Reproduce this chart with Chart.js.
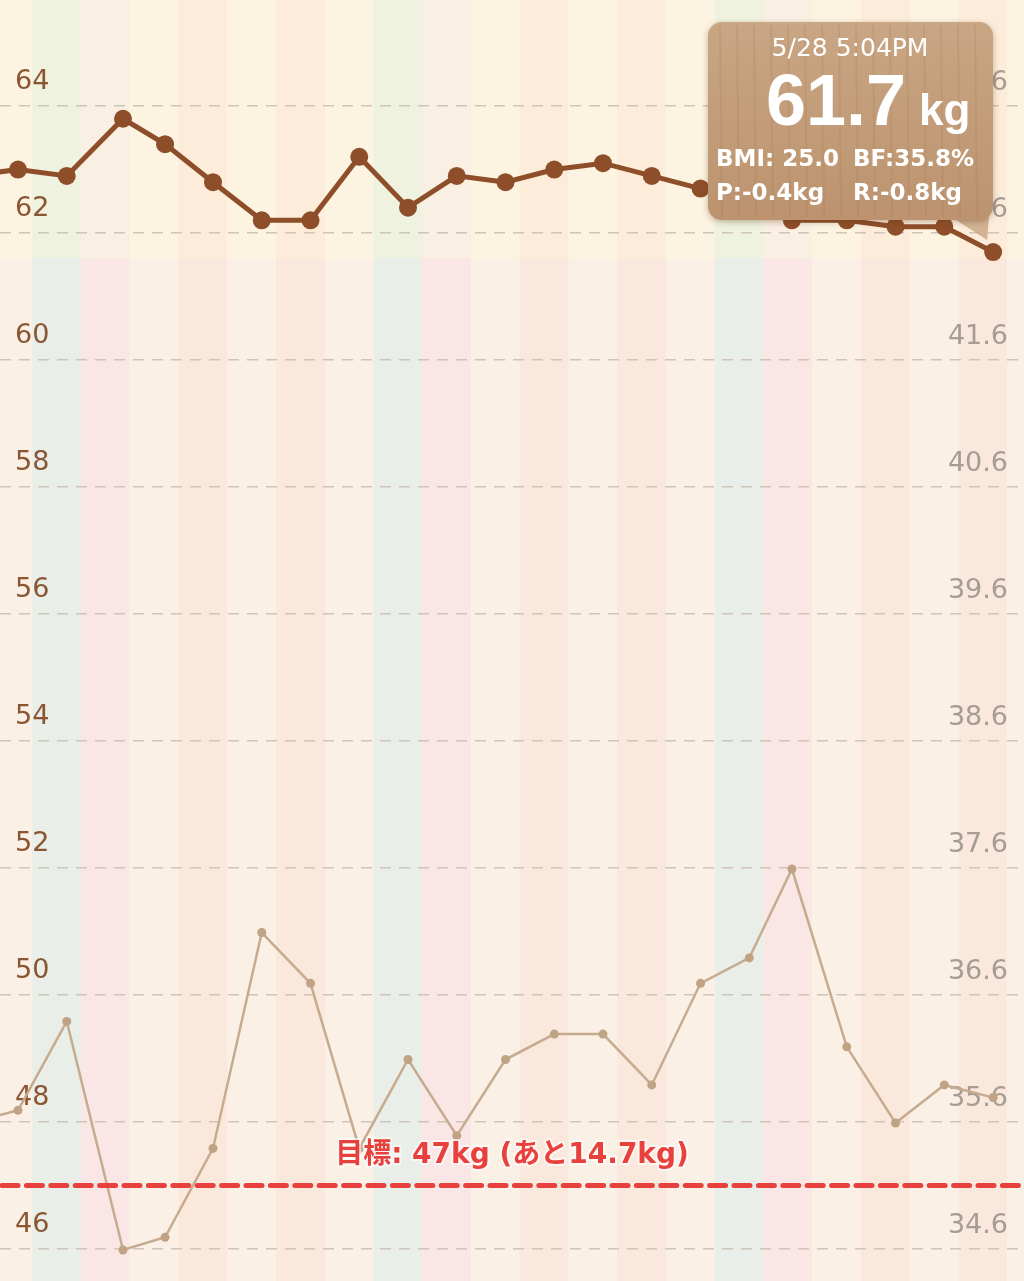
<!DOCTYPE html>
<html>
<head>
<meta charset="utf-8">
<title>体重グラフ</title>
<script src="https://cdn.jsdelivr.net/npm/chart.js@4.4.1/dist/chart.umd.min.js"></script>
<style>
  html, body { margin: 0; padding: 0; background: #faf0e6; }
  #wrap { width: 1024px; height: 1281px; position: relative; }
</style>
</head>
<body>
<div id="wrap"><canvas id="weightChart"></canvas></div>
<script>
// one reading per day (5/7 is just off the left edge)
const dates = ["5/7", "5/8", "5/9", "5/10", "5/11", "5/12", "5/13", "5/14", "5/15", "5/16", "5/17",
  "5/18", "5/19", "5/20", "5/21", "5/22", "5/23", "5/24", "5/25", "5/26", "5/27", "5/28"];
const readHours = [17, 17, 17, 20.7, 17.4, 17, 17, 17, 17, 17, 17,
  17, 17, 17, 17, 17, 17, 14, 17, 17, 17, 17.07];
const weightKg = [62.9, 63.0, 62.9, 63.8, 63.4, 62.8, 62.2, 62.2, 63.2, 62.4, 62.9,
  62.8, 63.0, 63.1, 62.9, 62.7, 62.5, 62.2, 62.2, 62.1, 62.1, 61.7];
const bodyFat = [35.6, 35.7, 36.4, 34.6, 34.7, 35.4, 37.1, 36.7, 35.4, 36.1, 35.5,
  36.1, 36.3, 36.3, 35.9, 36.7, 36.9, 37.6, 36.2, 35.6, 35.9, 35.8];
const weightTicks = [46, 48, 50, 52, 54, 56, 58, 60, 62, 64];
const fatTicks = [34.6, 35.6, 36.6, 37.6, 38.6, 39.6, 40.6, 41.6, 42.6, 43.6];

const goalKg = 47;
const bmi25Kg = 61.6;          // background tint changes here
const year = 2015;

const tipTitle = "5/28 5:04PM";
const tipBmi = "BMI: 25.0";
const tipP = "P:-0.4kg";
const tipR = "R:-0.8kg";

// day stripe colours: above / below the BMI 25 line
const topColors = { cream: "#fcf3e1", peach: "#fcecd9", sat: "#eef2df", sun: "#f9efe2" };
const lowColors = { cream: "#faf0e6", peach: "#fae8dc", sat: "#e9eee9", sun: "#f9e6e5" };

const dayKind = (dow) => {
  if (dow === 6) return "sat";
  if (dow === 0) return "sun";
  return (dow === 2 || dow === 4) ? "peach" : "cream";
};

const timeOf = (i) => i + readHours[i] / 24;

// scales take no room: labels sit inside the plot
const noRoom = (s) => {
  s.width = 0;
  s.paddingTop = 0;
  s.paddingBottom = 0;
  s.paddingLeft = 0;
  s.paddingRight = 0;
};

const stripes = {
  id: "stripes",
  beforeDraw(chart) {
    const { ctx, chartArea: a, scales: { x, y } } = chart;
    const split = y.getPixelForValue(bmi25Kg);
    ctx.save();
    for (let d = Math.floor(x.min); d <= Math.ceil(x.max); d++) {
      const dow = new Date(year, 4, 7 + d).getDay();
      const kind = dayKind(dow);
      const x1 = x.getPixelForValue(d), x2 = x.getPixelForValue(d + 1);
      ctx.fillStyle = topColors[kind];
      ctx.fillRect(x1, a.top, x2 - x1, split - a.top);
      ctx.fillStyle = lowColors[kind];
      ctx.fillRect(x1, split, x2 - x1, a.bottom - split);
    }
    ctx.restore();
  }
};

const goalLine = {
  id: "goalLine",
  afterDatasetsDraw(chart) {
    const { ctx, chartArea: a, scales: { y } } = chart;
    const gy = y.getPixelForValue(goalKg);
    const left = weightKg[weightKg.length - 1] - goalKg;
    ctx.save();
    ctx.strokeStyle = "#e8403c";
    ctx.lineWidth = 5;
    ctx.lineCap = "round";
    ctx.setLineDash([16, 8.4]);
    ctx.beginPath();
    ctx.moveTo(a.left + 2, gy);
    ctx.lineTo(a.right, gy);
    ctx.stroke();
    ctx.setLineDash([]);
    const label = `目標: ${goalKg}kg (あと${left.toFixed(1)}kg)`;
    ctx.font = "bold 28px 'DejaVu Sans', 'Noto Sans CJK JP', sans-serif";
    ctx.textAlign = "center";
    ctx.textBaseline = "middle";
    ctx.lineJoin = "round";
    ctx.lineWidth = 4;
    ctx.strokeStyle = "rgba(255,255,255,0.6)";
    ctx.strokeText(label, 512, gy - 30);
    ctx.fillStyle = "#e8403c";
    ctx.fillText(label, 512, gy - 30);
    ctx.restore();
  }
};

const infoBox = {
  id: "infoBox",
  afterDraw(chart) {
    const { ctx, scales: { x, y } } = chart;
    const last = weightKg.length - 1;
    const px = x.getPixelForValue(timeOf(last));
    const py = y.getPixelForValue(weightKg[last]);
    const bx = 708, by = 22, bw = 285, bh = 198, r = 14;
    ctx.save();
    // tail toward the latest point
    ctx.fillStyle = "rgba(196,160,124,0.75)";
    ctx.beginPath();
    ctx.moveTo(bx + bw - 40, by + bh - 2);
    ctx.lineTo(bx + bw - 2, by + bh - 30);
    ctx.lineTo(px - 6, py - 12);
    ctx.closePath();
    ctx.fill();
    // box
    ctx.shadowColor = "rgba(90,50,20,0.35)";
    ctx.shadowBlur = 6;
    ctx.shadowOffsetY = 2;
    const g = ctx.createLinearGradient(bx, by, bx, by + bh);
    g.addColorStop(0, "#c9a684");
    g.addColorStop(1, "#bc936e");
    ctx.fillStyle = g;
    ctx.beginPath();
    ctx.roundRect(bx, by, bw, bh, r);
    ctx.fill();
    ctx.shadowColor = "transparent";
    // faint wood grain
    ctx.strokeStyle = "rgba(160,115,75,0.18)";
    ctx.lineWidth = 2;
    for (let gx = bx + 12; gx < bx + bw - 6; gx += 17) {
      ctx.beginPath();
      ctx.moveTo(gx, by + 3);
      ctx.lineTo(gx + 2, by + bh - 3);
      ctx.stroke();
    }
    ctx.fillStyle = "#ffffff";
    ctx.textBaseline = "alphabetic";
    ctx.textAlign = "center";
    ctx.font = "25px 'DejaVu Sans', sans-serif";
    ctx.fillText(tipTitle, 850, 56);
    ctx.textAlign = "left";
    ctx.font = "bold 72px 'Liberation Sans', sans-serif";
    const big = weightKg[last].toFixed(1);
    ctx.fillText(big, 766, 125);
    ctx.font = "bold 44px 'Liberation Sans', sans-serif";
    ctx.fillText("kg", 919, 125);
    ctx.font = "bold 23px 'DejaVu Sans', sans-serif";
    ctx.fillText(tipBmi, 716, 166);
    ctx.fillText(`BF:${bodyFat[last].toFixed(1)}%`, 853, 166);
    ctx.fillText(tipP, 716, 200);
    ctx.fillText(tipR, 853, 200);
    ctx.restore();
  }
};

new Chart("weightChart", {
  type: "line",
  data: {
    datasets: [
      {
        label: "体重",
        data: weightKg.map((v, i) => ({ x: timeOf(i), y: v })),
        yAxisID: "y",
        borderColor: "#8d4e29",
        backgroundColor: "#8d4e29",
        borderWidth: 5,
        pointRadius: 9,
        pointBorderWidth: 0,
        tension: 0,
      },
      {
        label: "体脂肪率",
        data: bodyFat.map((v, i) => ({ x: timeOf(i), y: v })),
        yAxisID: "y2",
        borderColor: "#c6ab8e",
        backgroundColor: "#bfa384",
        borderWidth: 2.5,
        pointRadius: 4.5,
        pointBorderWidth: 0,
        tension: 0,
      },
    ],
  },
  options: {
    responsive: true,
    maintainAspectRatio: false,
    animation: false,
    events: [],
    layout: { padding: 0, autoPadding: false },
    plugins: { legend: { display: false }, tooltip: { enabled: false } },
    scales: {
      x: { type: "linear", display: false, min: 1.339, max: 22.344 },
      y: {
        position: "left",
        min: 45.496,
        max: 65.67,
        afterBuildTicks: (s) => { s.ticks = weightTicks.map((v) => ({ value: v })); },
        afterFit: noRoom,
        grid: { color: "#cfc4b8", lineWidth: 1.5, drawTicks: false },
        border: { display: false, dash: [11, 8] },
        ticks: {
          mirror: true,
          padding: 15,
          labelOffset: -24,
          color: "#8a5631",
          font: { family: "'DejaVu Sans', sans-serif", size: 27 },
          callback: (v) => v,
        },
      },
      y2: {
        position: "right",
        min: 34.356,
        max: 44.443,
        afterBuildTicks: (s) => { s.ticks = fatTicks.map((v) => ({ value: v })); },
        afterFit: noRoom,
        grid: { drawOnChartArea: false, drawTicks: false },
        border: { display: false },
        ticks: {
          mirror: true,
          padding: -16,
          labelOffset: -24,
          color: "#a59c93",
          font: { family: "'DejaVu Sans', sans-serif", size: 27 },
          callback: (v) => v.toFixed(1),
        },
      },
    },
  },
  plugins: [stripes, goalLine, infoBox],
});
</script>
</body>
</html>
